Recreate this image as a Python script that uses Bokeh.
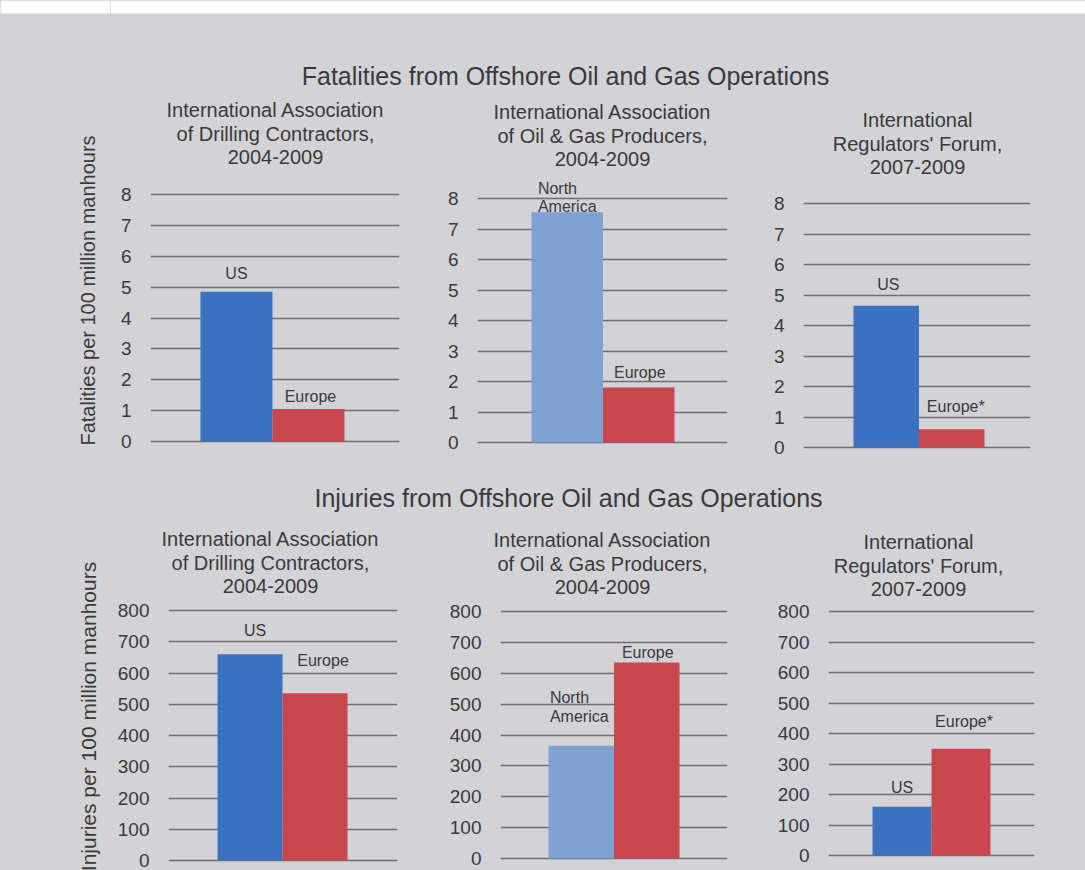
from math import pi
from bokeh.plotting import figure
from bokeh.models import Range1d, FixedTicker, Label, LabelSet, ColumnDataSource, BoxAnnotation
from bokeh.layouts import column, row
from bokeh.core.properties import value
from bokeh.embed import file_html
from bokeh.resources import INLINE

# ---------------- data ----------------
main_titles = ["Fatalities from Offshore Oil and Gas Operations",
               "Injuries from Offshore Oil and Gas Operations"]
y_axis_titles = ["Fatalities per 100 million manhours",
                 "Injuries per 100 million manhours"]
subtitles = ["International Association\nof Drilling Contractors,\n2004-2009",
             "International Association\nof Oil & Gas Producers,\n2004-2009",
             "International\nRegulators' Forum,\n2007-2009"]

iadc_regions = ["US", "Europe"]
ogp_regions = ["North\nAmerica", "Europe"]
irf_regions = ["US", "Europe*"]

fatal_iadc = [4.85, 1.05]
fatal_ogp = [7.55, 1.8]
fatal_irf = [4.65, 0.6]

injury_iadc = [660, 535]
injury_ogp = [365, 635]
injury_irf = [160, 350]

fatal_ticks = [0, 1, 2, 3, 4, 5, 6, 7, 8]
injury_ticks = [0, 100, 200, 300, 400, 500, 600, 700, 800]

# ---------------- style / layout ----------------
FONT = "Liberation Sans"
BG = "#d3d2d7"
TXT = "#3a3a3c"
GRID = "#6e6e73"
region_colors = {"US": "#3a72c0", "North\nAmerica": "#7fa2d3",
                 "Europe": "#c9474f", "Europe*": "#c9474f"}

W, H = 1085, 870
LEFT_W = 110
# title bands (top, bottom) and panel rows (top, bottom), page pixels
TITLE_BANDS = [(0, 180), (470, 600)]
ROWS = [(180, 470), (600, 870)]
COLS = [(110, 310), (420, 340), (760, 325)]  # (left, width) of each panel canvas
# gridline extent: (left, right, y of top gridline, y of zero gridline)
GRIDBOX = [(150, 399, 194, 441), (477, 727, 198, 442), (803, 1030, 203, 447),
           (168, 397, 610, 860), (500, 727, 611, 858), (828, 1034, 611, 855)]
XRANGES = [(-1.194, 2.264), (-1.255, 2.241), (-1.263, 2.202),
           (-1.254, 2.269), (-1.233, 2.233), (-1.246, 2.246)]
TITLE_POS = [(565, 75), (568, 497)]
SUB_POS = [(275, 133), (602, 135), (917, 143), (270, 562), (602, 563), (918, 565)]
SUB_STEP = 23.5
LBL_DX = [[0, 2], [0, 1], [2, 4], [5, 8], [-2, 1], [0, 3]]
LBL_DY = [[10, 4], [-3, 7], [13, 14], [15, 24], [21, 1], [11, 19]]
YLABEL_POS = [(87, 290, "20px"), (88, 716, "21px")]

panels = [
    (iadc_regions, fatal_iadc, fatal_ticks),
    (ogp_regions, fatal_ogp, fatal_ticks),
    (irf_regions, fatal_irf, fatal_ticks),
    (iadc_regions, injury_iadc, injury_ticks),
    (ogp_regions, injury_ogp, injury_ticks),
    (irf_regions, injury_irf, injury_ticks),
]

COMMON = dict(output_backend="svg", toolbar_location=None,
              background_fill_color=None, border_fill_color=None,
              outline_line_color=None)


def make_panel(i):
    regions, vals, ticks = panels[i]
    r, c = divmod(i, 3)
    top, bottom = ROWS[r]
    left, w = COLS[c]
    gl, gr, gt, g0 = GRIDBOX[i]
    ymax = ticks[-1]
    ppu = (g0 - gt) / ymax
    yr = (-(bottom - g0) / ppu, ymax + (gt - top) / ppu)
    p = figure(width=w, height=bottom - top, x_range=Range1d(*XRANGES[i]),
               y_range=Range1d(*yr),
               min_border_left=gl - left, min_border_right=left + w - gr,
               min_border_top=0, min_border_bottom=0,
               x_axis_location=None, **COMMON)
    ax = p.yaxis[0]
    ax.ticker = FixedTicker(ticks=ticks)
    ax.axis_line_color = None
    ax.major_tick_line_color = None
    ax.minor_tick_line_color = None
    ax.major_tick_out = 0
    ax.major_tick_in = 0
    ax.major_label_standoff = 19
    ax.major_label_text_font = FONT
    ax.major_label_text_font_size = "19px"
    ax.major_label_text_color = TXT
    p.xgrid.grid_line_color = None
    g = p.ygrid[0]
    g.ticker = FixedTicker(ticks=ticks)
    g.grid_line_color = GRID
    g.grid_line_width = 1.3

    idx = list(range(len(regions)))
    src = ColumnDataSource(dict(x=idx, top=vals, text=regions,
                                color=[region_colors[k] for k in regions],
                                dx=LBL_DX[i], dy=LBL_DY[i]))
    p.vbar(x="x", top="top", bottom=0, width=1.0, fill_color="color",
           line_color=None, source=src)
    p.add_layout(LabelSet(x="x", y="top", text="text", x_offset="dx", y_offset="dy",
                          source=src, text_align="center", text_baseline="bottom",
                          text_font=value(FONT), text_font_size="16px",
                          text_color=TXT, text_line_height=1.1))
    return p


def make_band(r):
    top, bottom = TITLE_BANDS[r]
    p = figure(width=W - LEFT_W, height=bottom - top, x_range=Range1d(LEFT_W, W),
               y_range=Range1d(bottom, top),
               min_border_left=0, min_border_right=0, min_border_top=0, min_border_bottom=0,
               x_axis_location=None, y_axis_location=None, **COMMON)
    p.grid.visible = False
    if r == 0:
        p.add_layout(BoxAnnotation(top=0, bottom=13, fill_color="white",
                                   fill_alpha=1, line_color=None))
    tx, ty = TITLE_POS[r]
    p.add_layout(Label(x=tx, y=ty, text=main_titles[r], text_align="center",
                       text_baseline="middle", text_font=FONT, text_font_size="25px",
                       text_color=TXT))
    for c in range(3):
        sx, sy = SUB_POS[3 * r + c]
        lines = subtitles[c].split("\n")
        for k, line in enumerate(lines):
            p.add_layout(Label(x=sx, y=sy + (k - 1) * SUB_STEP, text=line,
                               text_align="center", text_baseline="middle",
                               text_font=FONT, text_font_size="20px", text_color=TXT))
    return p


def make_left():
    p = figure(width=LEFT_W, height=H, x_range=Range1d(0, LEFT_W), y_range=Range1d(H, 0),
               min_border_left=0, min_border_right=0, min_border_top=0, min_border_bottom=0,
               x_axis_location=None, y_axis_location=None, **COMMON)
    p.grid.visible = False
    p.add_layout(BoxAnnotation(top=0, bottom=13, fill_color="white",
                               fill_alpha=1, line_color=None))
    for r in range(2):
        lx, ly, fs = YLABEL_POS[r]
        p.add_layout(Label(x=lx, y=ly, text=y_axis_titles[r], angle=pi / 2,
                           text_align="center", text_baseline="middle",
                           text_font=FONT, text_font_size=fs, text_color=TXT))
    return p


figs = [make_panel(i) for i in range(6)]
right = column(make_band(0), row(*figs[:3]), make_band(1), row(*figs[3:]))
layout = row(make_left(), right, styles={"background-color": BG})

open("out.html", "w").write(file_html(layout, INLINE))
